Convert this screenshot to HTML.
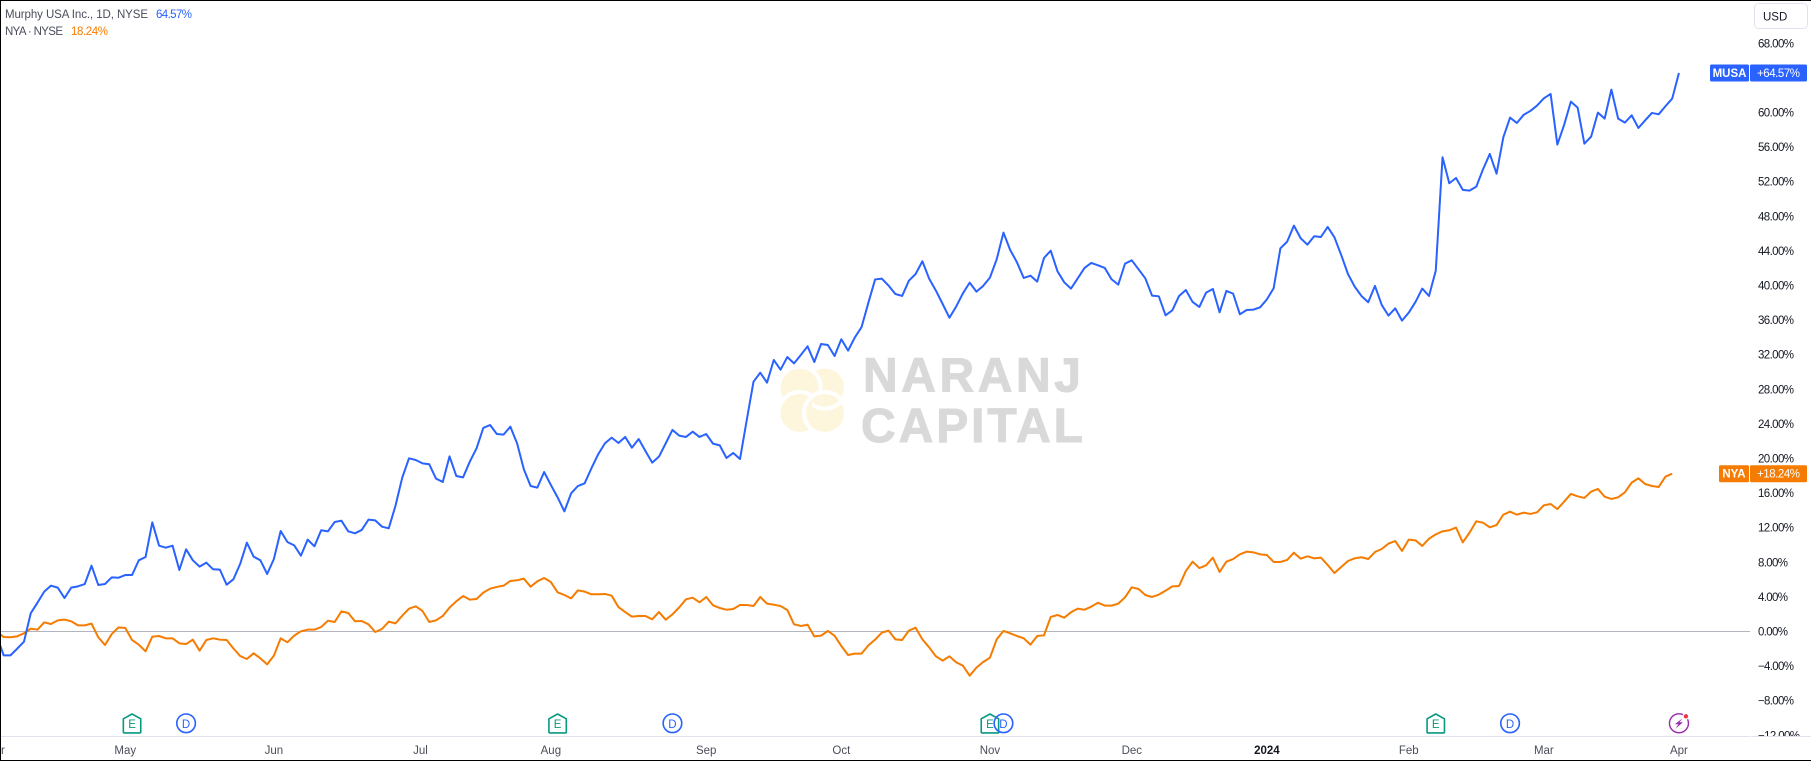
<!DOCTYPE html>
<html lang="en">
<head>
<meta charset="utf-8">
<title>MUSA vs NYA</title>
<style>
html,body{margin:0;padding:0;background:#fff;width:1811px;height:761px;overflow:hidden}
svg{display:block;font-family:"Liberation Sans",sans-serif}
</style>
</head>
<body>
<svg id="chart" xmlns="http://www.w3.org/2000/svg" width="1811" height="761" viewBox="0 0 1811 761">
  <defs>
    <clipPath id="pane-clip"><rect x="0" y="0" width="1750" height="736"/></clipPath>
    <clipPath id="axis-clip"><rect x="1751" y="0" width="60" height="736"/></clipPath>
    <clipPath id="logo-clip"><rect x="812.3" y="400.3" width="40" height="40"/></clipPath>
  </defs>
  <rect x="0" y="0" width="1811" height="761" fill="#ffffff"/>

  <g>
    <g fill="#fef6dc" stroke="#ffffff" stroke-width="4">
      <circle cx="825" cy="387.6" r="21"/>
      <circle cx="799.6" cy="387.6" r="21"/>
      <circle cx="799.6" cy="413" r="21"/>
      <circle cx="825" cy="413" r="21"/>
      <circle cx="825" cy="387.6" r="21" clip-path="url(#logo-clip)"/>
    </g>
    <text x="863" y="391.7" font-size="48" font-weight="700" fill="#d9d9d9" stroke="#d9d9d9" stroke-width="1" textLength="218" lengthAdjust="spacing">NARANJ</text>
    <text x="861" y="442" font-size="48" font-weight="700" fill="#d9d9d9" stroke="#d9d9d9" stroke-width="1" textLength="222" lengthAdjust="spacing">CAPITAL</text>
  </g>

  <g id="price-axis" clip-path="url(#axis-clip)"></g>
  <g id="series" clip-path="url(#pane-clip)"></g>
  <g id="events"></g>

  <line x1="0" y1="736.5" x2="1750" y2="736.5" stroke="#e0e3eb" stroke-width="1"/>
  <line x1="1751" y1="736.5" x2="1811" y2="736.5" stroke="#e0e3eb" stroke-width="1"/>
  <g id="time-axis"></g>
  <g id="tags"></g>

  <g font-size="11.5">
    <g>
      <text x="5" y="18" fill="#4a4e5a" textLength="143" lengthAdjust="spacing">Murphy USA Inc., 1D, NYSE</text>
      <text x="156" y="18" fill="#2962ff" textLength="36" lengthAdjust="spacing">64.57%</text>
    </g>
    <g>
      <text x="5" y="35" fill="#4a4e5a" textLength="58" lengthAdjust="spacing">NYA · NYSE</text>
      <text x="71" y="35" fill="#f57c00" textLength="37" lengthAdjust="spacing">18.24%</text>
    </g>
  </g>

  <g>
    <rect x="1754.5" y="3.5" width="53" height="25" rx="4" fill="#ffffff" stroke="#e0e3eb"/>
    <text x="1763" y="20.5" font-size="11.5" fill="#131722">USD</text>
  </g>

  <path d="M0.5 761V0.5H1811M0 760.5H1811" fill="none" stroke="#000000" stroke-width="1"/>
</svg>

<script>
// Percent change since start of range, one value per trading day
const musaPct = [
-0.60,-2.76,-2.76,-1.98,-1.18,2.10,3.33,4.61,5.30,5.07,3.87,5.07,5.22,5.49,7.61,5.38,5.49,6.26,6.22,6.53,
6.53,8.23,8.61,12.62,9.92,9.69,9.92,7.11,9.50,8.23,7.50,7.96,7.19,7.15,5.41,6.03,7.80,10.27,8.65,8.23,
6.65,8.38,11.62,10.35,9.96,8.77,10.62,9.85,11.70,11.58,12.66,12.81,11.58,11.35,11.74,12.93,12.85,12.12,11.93,14.55,
17.79,20.02,19.83,19.44,19.33,17.67,17.29,20.25,17.98,17.82,19.63,21.18,23.53,23.87,22.83,22.76,23.68,21.75,18.75,16.82,
16.63,18.44,16.94,15.51,13.89,15.97,16.82,17.13,18.86,20.48,21.75,22.41,21.79,22.49,21.25,22.25,20.87,19.52,20.21,21.75,
23.30,22.64,22.49,23.10,22.49,22.83,21.72,21.52,20.06,20.64,19.94,24.45,28.88,29.92,28.77,31.39,30.27,31.73,31.00,31.97,
32.97,31.16,33.24,33.12,31.85,33.78,32.47,34.00,35.20,38.00,40.70,40.79,39.98,39.02,38.79,40.56,41.33,42.80,40.79,39.41,
37.86,36.28,37.56,39.10,40.33,39.29,39.95,40.91,43.03,46.11,44.11,42.68,40.87,41.14,40.45,43.18,44.03,41.64,40.37,39.64,
40.83,42.03,42.61,42.34,42.03,40.72,40.10,42.53,42.91,41.87,40.83,38.83,38.75,36.55,37.13,38.79,39.48,38.10,37.52,39.18,
39.60,36.90,39.37,39.06,36.67,37.17,37.21,37.48,38.40,39.68,44.30,45.07,46.92,45.46,44.72,45.69,45.61,46.77,45.57,43.53,
41.33,39.87,38.79,38.06,39.95,37.75,36.52,37.36,35.94,36.86,38.10,39.64,38.79,41.72,54.82,51.82,52.43,51.05,50.97,51.43,
53.44,55.21,52.93,57.13,59.41,58.79,59.72,60.18,60.80,61.64,62.15,56.29,58.56,61.26,60.57,56.40,57.21,59.99,59.29,62.65,
59.29,58.83,59.68,58.21,59.10,59.95,59.79,60.72,61.61,64.57
];
const nyaPct = [
-0.02,-0.64,-0.67,-0.56,-0.21,0.33,0.21,1.06,0.87,1.29,1.37,1.18,0.71,0.71,0.91,-0.67,-1.56,-0.29,0.48,0.40,
-0.98,-1.52,-2.29,-0.60,-0.52,-0.79,-0.79,-1.37,-1.45,-0.94,-2.22,-0.98,-0.79,-0.94,-0.98,-1.95,-2.83,-3.18,-2.52,-3.10,
-3.80,-2.79,-0.79,-1.25,-0.48,0.02,0.21,0.21,0.52,1.25,1.10,2.33,2.14,1.18,1.21,0.83,-0.06,0.29,1.14,0.94,
1.83,2.64,2.91,2.37,1.10,1.29,1.79,2.76,3.49,4.10,3.68,3.76,4.49,4.95,5.15,5.30,5.84,5.92,6.11,5.18,
5.80,6.19,5.72,4.53,4.22,3.83,4.76,4.61,4.30,4.30,4.34,4.14,2.83,2.25,1.72,1.79,1.79,1.41,2.25,1.37,
1.98,2.79,3.72,3.91,3.37,3.99,3.03,2.72,2.52,2.60,3.06,3.06,2.95,3.99,3.22,3.10,2.95,2.49,0.83,0.64,
0.79,-0.56,-0.48,0.06,-0.48,-1.68,-2.72,-2.56,-2.56,-1.60,-0.94,-0.13,0.10,-0.91,-0.98,0.10,0.44,-0.91,-1.83,-2.87,
-3.37,-2.87,-3.56,-3.95,-5.11,-4.18,-3.53,-3.03,-0.91,0.06,-0.21,-0.52,-0.79,-1.52,-0.52,-0.44,1.68,1.91,1.60,2.22,
2.64,2.52,2.87,3.33,2.99,2.99,3.22,3.95,5.11,4.91,4.22,3.99,4.26,4.72,5.22,5.26,6.99,8.07,7.34,7.65,
8.54,6.88,8.07,8.38,8.92,9.23,9.15,8.92,8.84,8.04,8.04,8.27,9.11,8.42,8.69,8.46,8.54,7.69,6.76,7.46,
8.15,8.46,8.58,8.38,9.19,9.54,10.16,10.46,9.31,10.62,10.54,9.89,10.73,11.23,11.58,11.70,12.01,10.31,11.43,12.74,
12.58,12.04,12.31,13.51,13.85,13.51,13.74,13.59,13.78,14.59,14.74,14.16,15.01,15.90,15.63,15.44,16.17,16.48,15.59,15.32,
15.51,16.09,17.21,17.71,17.05,16.82,16.71,17.90,18.24
];
const priceTicks = [-12,-8,-4,0,4,8,12,16,20,24,28,32,36,40,44,48,52,56,60,68];
const timeLabels = ["Apr","May","Jun","Jul","Aug","Sep","Oct","Nov","Dec","2024","Feb","Mar","Apr"];
const timeBars = [-0.15,19,41,62.7,82,105,125,147,168,188,209,229,249];
const eventBars = [20,28,83,100,147,149,213,224,249];
const eventKinds = ["E","D","E","D","E","D","E","D","F"];

const NS = "http://www.w3.org/2000/svg";
function xAt(i){ return -3.05 + 6.755 * i; }
function yAt(v){ return 631.5 - 8.65 * v; }
function mk(tag, attrs, parent, text){
  const n = document.createElementNS(NS, tag);
  for (const k in attrs) n.setAttribute(k, attrs[k]);
  if (text !== undefined) n.textContent = text;
  parent.appendChild(n);
  return n;
}
function fmt(v, d){ return (v < 0 ? "\u2212" : "") + Math.abs(v).toFixed(d) + "%"; }
function linePath(vals){
  return vals.map(function(v, i){ return (i ? "L" : "M") + xAt(i).toFixed(2) + " " + yAt(v).toFixed(2); }).join("");
}

const seriesG = document.getElementById("series");
const zero = mk("line", {x1:0, x2:1750, y1:yAt(0), y2:yAt(0), stroke:"#b2b5be", "stroke-width":1}, seriesG);



const nyaLine = mk("path", {d:linePath(nyaPct), fill:"none", stroke:"#f57c00", "stroke-width":2, "stroke-linejoin":"round"}, seriesG);



const musaLine = mk("path", {d:linePath(musaPct), fill:"none", stroke:"#2962ff", "stroke-width":2, "stroke-linejoin":"round"}, seriesG);



const axisG = document.getElementById("price-axis");
priceTicks.forEach(function(v){
  const label = fmt(v, 2);
  const t = mk("text", {x:1758, y:yAt(v) + 4, "font-size":11.5, fill:"#131722", textLength: label.length * 6, lengthAdjust:"spacing"}, axisG, label);
  
  
});

const timeG = document.getElementById("time-axis");
timeLabels.forEach(function(label, i){
  const bold = label === "2024";
  const t = mk("text", {x:xAt(timeBars[i]), y:754, "font-size":11.5, "text-anchor":"middle", fill: bold ? "#131722" : "#4a4e5a", "font-weight": bold ? 700 : 400}, timeG, label);
  
  
});

const eventsG = document.getElementById("events");
const EVENT_Y = 723.3;
eventBars.forEach(function(bar, i){
  const cx = xAt(bar), kind = eventKinds[i];
  const g = mk("g", {}, eventsG);
  if (kind === "E") {
    
    
    mk("path", {d:"M"+(cx-8.7)+" "+(EVENT_Y-4.5)+"L"+cx+" "+(EVENT_Y-9.3)+"L"+(cx+8.7)+" "+(EVENT_Y-4.5)+"V"+(EVENT_Y+8.8)+"a0.8 0.8 0 0 1 -0.8 0.8H"+(cx-7.9)+"a0.8 0.8 0 0 1 -0.8 -0.8Z", fill:"#ffffff", stroke:"#089981", "stroke-width":1.6, "stroke-linejoin":"round"}, g);
    mk("text", {x:cx, y:EVENT_Y+4.5, "font-size":11.5, "text-anchor":"middle", fill:"#089981"}, g, "E");
  } else if (kind === "D") {
    
    
    mk("circle", {cx:cx, cy:EVENT_Y, r:9.3, fill:"#ffffff", "fill-opacity":0, stroke:"#2962ff", "stroke-width":1.6}, g);
    mk("text", {x:cx, y:EVENT_Y+4.5, "font-size":11.5, "text-anchor":"middle", fill:"#2962ff"}, g, "D");
  } else {
    
    
    mk("circle", {cx:cx, cy:EVENT_Y, r:9.5, fill:"#ffffff", stroke:"#9c27b0", "stroke-width":1.4}, g);
    mk("path", {d:"M"+(cx+3.5)+" "+(EVENT_Y-5)+"L"+(cx-4)+" "+(EVENT_Y+1)+"H"+(cx-0.5)+"L"+(cx-3.5)+" "+(EVENT_Y+5.5)+"L"+(cx+4)+" "+(EVENT_Y-1)+"H"+(cx+0.5)+"Z", fill:"#9c27b0"}, g);
    mk("circle", {cx:cx+7, cy:EVENT_Y-7, r:2.8, fill:"#f23645", stroke:"#ffffff", "stroke-width":1.2}, g);
  }
});

const tagsG = document.getElementById("tags");
function addTag(name, vals, color, left){
  const v = vals[vals.length - 1], cy = yAt(v);
  const box1 = mk("rect", {x:left, y:cy-8.5, width:1749-left, height:17, rx:1.5, fill:color}, tagsG);
  
  
  const box2 = mk("rect", {x:1750, y:cy-8.5, width:57, height:17, rx:1.5, fill:color}, tagsG);
  
  
  const t1 = mk("text", {x:(left+1749)/2, y:cy+4, "font-size":11.5, "font-weight":700, "text-anchor":"middle", fill:"#ffffff"}, tagsG, name);
  
  
  const t2 = mk("text", {x:1778.5, y:cy+4, "font-size":11.5, "text-anchor":"middle", fill:"#ffffff", textLength:43, lengthAdjust:"spacing"}, tagsG, "+" + v.toFixed(2) + "%");
  
  
}
addTag("MUSA", musaPct, "#2962ff", 1710);
addTag("NYA", nyaPct, "#f57c00", 1719);
</script>
</body>
</html>
